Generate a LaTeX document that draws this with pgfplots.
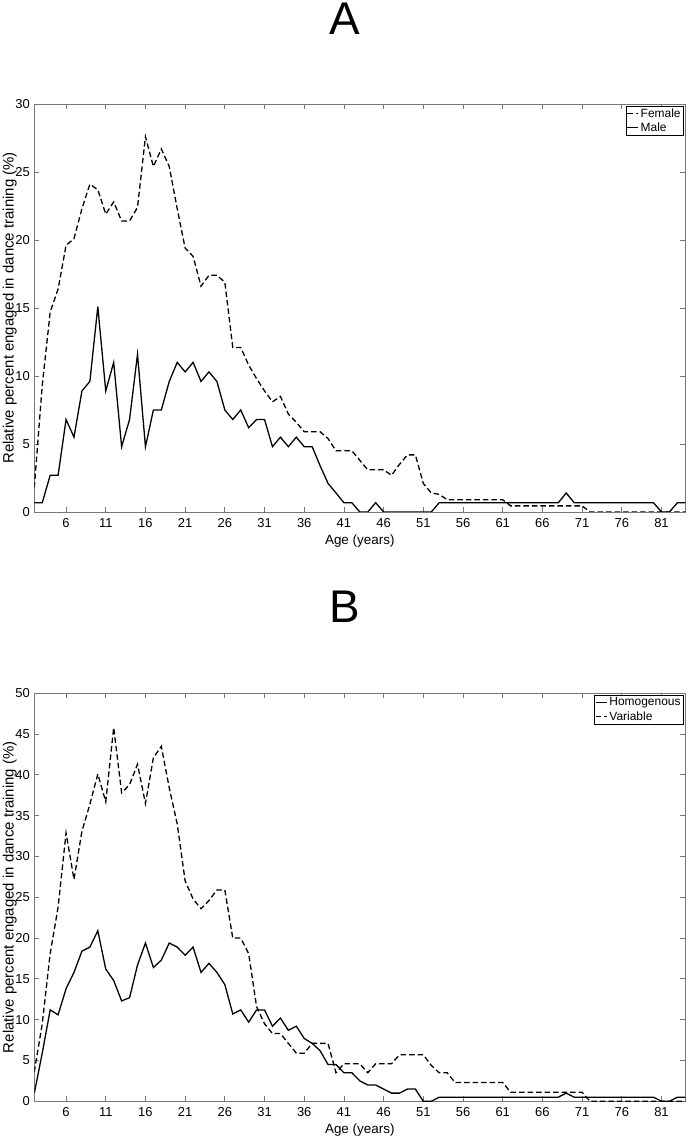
\documentclass[border=0pt]{standalone}
\usepackage{fontspec}
\setmainfont{Liberation Sans}
\usepackage{pgfplots}
\pgfplotsset{compat=1.18}
\definecolor{axgray}{RGB}{120,120,120}
\pgfplotsset{
  panel/.style={
    scale only axis, width=651bp, height=408bp,
    xmin=2, xmax=84, ymin=0,
    xtick={6,11,...,81},
    axis line style={axgray, line width=0.9bp},
    every tick/.style={axgray, line width=0.8bp},
    tick align=inside, tick pos=both, major tick length=5bp,
    /pgf/number format/assume math mode=true,
    tick label style={font=\fontsize{13}{15}\selectfont},
    xticklabel style={yshift=-3bp},
    yticklabel style={xshift=-1bp},
    xlabel={Age (years)},
    ylabel={Relative percent engaged in dance training (\%)},
    xlabel style={font=\fontsize{13.5}{15}\selectfont, yshift=0bp},
    ylabel style={font=\fontsize{15}{16}\selectfont, at={(axis description cs:-0.0375,0.5)}, anchor=center},
    legend cell align=left,
    legend style={at={(0.997,0.996)}, anchor=north east, draw=black, line width=0.6bp,
      font=\fontsize{12}{14}\selectfont, inner sep=0.5bp, row sep=0bp,
      /tikz/every even column/.append style={column sep=0bp}},
    legend image code/.code={\draw[#1] (0bp,0bp) -- (11bp,0bp);},
  },
  fem/.style={black, line width=1.3bp, dash pattern=on 5.5bp off 3bp},
  mal/.style={black, line width=1.3bp},
}
\begin{document}
\begin{tikzpicture}[x=1bp,y=1bp]
\useasboundingbox (0,0) rectangle (688,1142);
\node[font=\fontsize{46}{46}\selectfont] at (345,1123) {A};
\node[font=\fontsize{46}{46}\selectfont] at (345,535) {B};
\begin{axis}[panel, at={(34.3bp,630bp)}, anchor=south west, ymax=30, ytick={0,5,...,30}]
\addplot[fem] coordinates {
(2,1.8)(3,9.3)(4,14.7)(5,16.4)(6,19.6)(7,20.1)(8,22.3)(9,24.1)(10,23.7)(11,21.9)
(12,22.8)(13,21.4)(14,21.4)(15,22.4)(16,27.6)(17,25.4)(18,26.7)(19,25.4)(20,22.3)(21,19.4)
(22,18.8)(23,16.6)(24,17.4)(25,17.4)(26,16.9)(27,12.1)(28,12.1)(29,10.8)(30,9.8)(31,8.9)
(32,8.1)(33,8.5)(34,7.2)(35,6.6)(36,5.9)(37,5.9)(38,5.9)(39,5.4)(40,4.5)(41,4.5)
(42,4.5)(43,3.8)(44,3.1)(45,3.1)(46,3.1)(47,2.7)(48,3.5)(49,4.2)(50,4.2)(51,2.1)
(52,1.4)(53,1.3)(54,0.9)(55,0.9)(56,0.9)(57,0.9)(58,0.9)(59,0.9)(60,0.9)(61,0.9)
(62,0.45)(63,0.45)(64,0.45)(65,0.45)(66,0.45)(67,0.45)(68,0.45)(69,0.45)(70,0.45)(71,0.45)
(72,0)(73,0)(74,0)(75,0)(76,0)(77,0)(78,0)(79,0)(80,0)(81,0)(82,0)(83,0)(84,0)};
\addlegendentry{Female}
\addplot[mal] coordinates {
(2,0.68)(3,0.68)(4,2.7)(5,2.7)(6,6.8)(7,5.5)(8,8.9)(9,9.6)(10,15.1)(11,8.9)
(12,11.0)(13,4.8)(14,6.8)(15,11.6)(16,4.8)(17,7.5)(18,7.5)(19,9.6)(20,11.0)(21,10.3)
(22,11.0)(23,9.6)(24,10.3)(25,9.6)(26,7.5)(27,6.8)(28,7.5)(29,6.2)(30,6.8)(31,6.8)
(32,4.8)(33,5.5)(34,4.8)(35,5.5)(36,4.8)(37,4.8)(38,3.4)(39,2.1)(40,1.4)(41,0.68)
(42,0.68)(43,0)(44,0)(45,0.68)(46,0)(47,0)(48,0)(49,0)(50,0)(51,0)
(52,0)(53,0.68)(54,0.68)(55,0.68)(56,0.68)(57,0.68)(58,0.68)(59,0.68)(60,0.68)(61,0.68)
(62,0.68)(63,0.68)(64,0.68)(65,0.68)(66,0.68)(67,0.68)(68,0.68)(69,1.4)(70,0.68)(71,0.68)
(72,0.68)(73,0.68)(74,0.68)(75,0.68)(76,0.68)(77,0.68)(78,0.68)(79,0.68)(80,0.68)(81,0)
(82,0)(83,0.68)(84,0.68)};
\addlegendentry{Male}
\end{axis}
\begin{axis}[panel, at={(34.3bp,40.7bp)}, anchor=south west, ymax=50, ytick={0,5,...,50}]
\addplot[mal] coordinates {
(2,1.0)(3,5.9)(4,11.2)(5,10.6)(6,13.8)(7,15.8)(8,18.4)(9,18.9)(10,20.9)(11,16.2)
(12,14.8)(13,12.3)(14,12.7)(15,16.7)(16,19.4)(17,16.4)(18,17.3)(19,19.4)(20,18.9)(21,17.9)
(22,18.9)(23,15.8)(24,16.9)(25,15.8)(26,14.3)(27,10.7)(28,11.2)(29,9.7)(30,11.2)(31,11.2)
(32,9.2)(33,10.2)(34,8.7)(35,9.2)(36,7.7)(37,7.1)(38,6.2)(39,4.5)(40,4.5)(41,3.5)
(42,3.5)(43,2.5)(44,2.0)(45,2.0)(46,1.5)(47,1.0)(48,1.0)(49,1.5)(50,1.5)(51,0)
(52,0)(53,0.5)(54,0.5)(55,0.5)(56,0.5)(57,0.5)(58,0.5)(59,0.5)(60,0.5)(61,0.5)
(62,0.5)(63,0.5)(64,0.5)(65,0.5)(66,0.5)(67,0.5)(68,0.5)(69,1.0)(70,0.5)(71,0.5)
(72,0.5)(73,0.5)(74,0.5)(75,0.5)(76,0.5)(77,0.5)(78,0.5)(79,0.5)(80,0.5)(81,0)
(82,0)(83,0.5)(84,0.5)};
\addlegendentry{Homogenous}
\addplot[fem] coordinates {
(2,3.6)(3,9.5)(4,18.1)(5,23.8)(6,32.9)(7,27.2)(8,33.1)(9,36.4)(10,40.1)(11,36.7)
(12,45.8)(13,37.8)(14,38.8)(15,41.3)(16,36.5)(17,42.1)(18,43.5)(19,38.4)(20,34.0)(21,27.0)
(22,24.8)(23,23.6)(24,24.6)(25,25.9)(26,25.9)(27,20.0)(28,20.0)(29,18.1)(30,11.6)(31,9.5)
(32,8.3)(33,8.3)(34,7.1)(35,5.9)(36,5.9)(37,7.1)(38,7.1)(39,7.1)(40,3.5)(41,4.6)
(42,4.6)(43,4.6)(44,3.5)(45,4.6)(46,4.6)(47,4.6)(48,5.7)(49,5.7)(50,5.7)(51,5.7)
(52,4.4)(53,3.5)(54,3.5)(55,2.3)(56,2.3)(57,2.3)(58,2.3)(59,2.3)(60,2.3)(61,2.3)
(62,1.1)(63,1.1)(64,1.1)(65,1.1)(66,1.1)(67,1.1)(68,1.1)(69,1.1)(70,1.1)(71,1.1)
(72,0)(73,0)(74,0)(75,0)(76,0)(77,0)(78,0)(79,0)(80,0)(81,0)(82,0)(83,0)(84,0)};
\addlegendentry{Variable}
\end{axis}
\end{tikzpicture}
\end{document}
